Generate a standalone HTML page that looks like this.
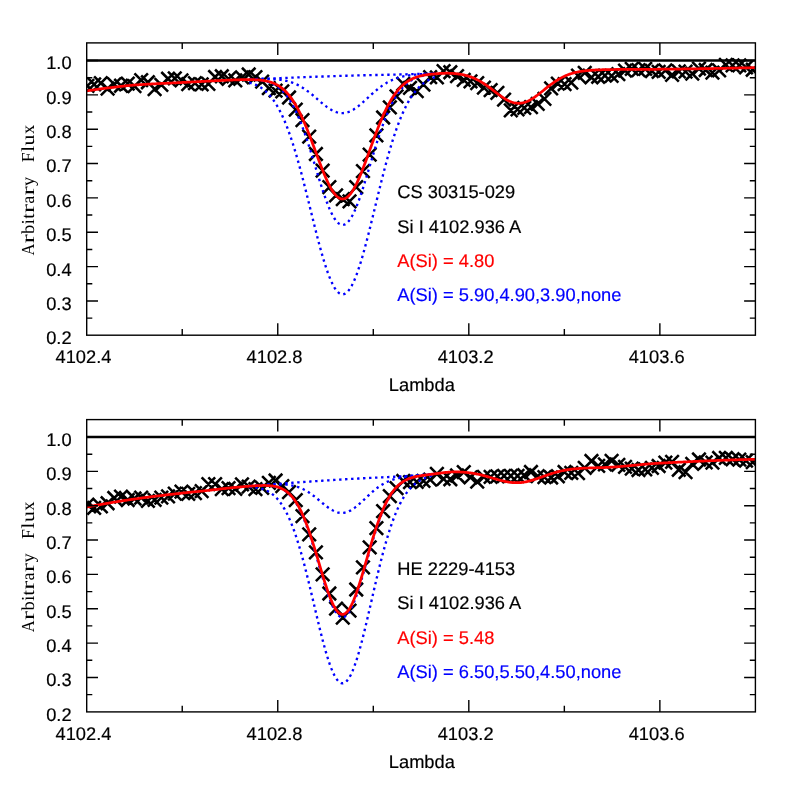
<!DOCTYPE html>
<html><head><meta charset="utf-8"><title>Si I 4102.936 fits</title>
<style>
html,body{margin:0;padding:0;background:#fff;}
svg{display:block;will-change:transform;}
text{font-family:"Liberation Sans",sans-serif;font-size:18.3px;fill:#000;stroke:#000;stroke-width:0.18px;text-rendering:geometricPrecision;}
.ser{font-family:"Liberation Serif",serif;stroke:none;}
</style></head><body>
<svg width="797" height="797" viewBox="0 0 797 797">
<rect width="797" height="797" fill="#fff"/>
<clipPath id="cp0"><rect x="86.7" y="42.9" width="668.6999999999999" height="292.3"/></clipPath>
<g clip-path="url(#cp0)">
<path d="M80.67,79.03L94.17,92.53M80.67,92.53L94.17,79.03M87.39,77.63L100.89,91.13M87.39,91.13L100.89,77.63M94.11,76.29L107.61,89.79M94.11,89.79L107.61,76.29M100.83,81.94L114.33,95.44M100.83,95.44L114.33,81.94M107.55,77.72L121.05,91.22M107.55,91.22L121.05,77.72M114.27,79.02L127.77,92.52M114.27,92.52L127.77,79.02M120.99,76.81L134.49,90.31M120.99,90.31L134.49,76.81M127.71,79.31L141.21,92.81M127.71,92.81L141.21,79.31M134.43,73.41L147.93,86.91M134.43,86.91L147.93,73.41M141.15,75.51L154.65,89.01M141.15,89.01L154.65,75.51M147.87,82.30L161.37,95.80M147.87,95.80L161.37,82.30M154.59,78.12L168.09,91.62M154.59,91.62L168.09,78.12M161.31,71.99L174.81,85.49M161.31,85.49L174.81,71.99M168.03,71.57L181.53,85.07M168.03,85.07L181.53,71.57M174.75,73.71L188.25,87.21M174.75,87.21L188.25,73.71M181.47,77.34L194.97,90.84M181.47,90.84L194.97,77.34M188.19,76.44L201.69,89.94M188.19,89.94L201.69,76.44M194.91,77.63L208.41,91.13M194.91,91.13L208.41,77.63M201.63,77.11L215.13,90.61M201.63,90.61L215.13,77.11M208.35,70.25L221.85,83.75M208.35,83.75L221.85,70.25M215.08,69.48L228.58,82.98M215.08,82.98L228.58,69.48M221.80,72.04L235.30,85.54M221.80,85.54L235.30,72.04M228.52,73.67L242.02,87.17M228.52,87.17L242.02,73.67M235.24,70.66L248.74,84.16M235.24,84.16L248.74,70.66M241.96,67.73L255.46,81.23M241.96,81.23L255.46,67.73M248.68,70.28L262.18,83.78M248.68,83.78L262.18,70.28M255.40,74.96L268.90,88.46M255.40,88.46L268.90,74.96M262.12,81.30L275.62,94.80M262.12,94.80L275.62,81.30M268.84,83.90L282.34,97.40M268.84,97.40L282.34,83.90M275.56,84.72L289.06,98.22M275.56,98.22L289.06,84.72M282.28,90.75L295.78,104.25M282.28,104.25L295.78,90.75M289.00,102.85L302.50,116.35M289.00,116.35L302.50,102.85M295.72,113.35L309.22,126.85M295.72,126.85L309.22,113.35M302.44,129.95L315.94,143.45M302.44,143.45L315.94,129.95M309.16,147.25L322.66,160.75M309.16,160.75L322.66,147.25M315.88,163.85L329.38,177.35M315.88,177.35L329.38,163.85M322.60,180.35L336.10,193.85M322.60,193.85L336.10,180.35M329.32,188.65L342.82,202.15M329.32,202.15L342.82,188.65M336.04,192.45L349.54,205.95M336.04,205.95L349.54,192.45M342.76,194.55L356.26,208.05M342.76,208.05L356.26,194.55M349.48,180.45L362.98,193.95M349.48,193.95L362.98,180.45M356.20,164.45L369.70,177.95M356.20,177.95L369.70,164.45M362.92,147.85L376.42,161.35M362.92,161.35L376.42,147.85M369.65,128.65L383.15,142.15M369.65,142.15L383.15,128.65M376.37,110.75L389.87,124.25M376.37,124.25L389.87,110.75M383.09,100.55L396.59,114.05M383.09,114.05L396.59,100.55M389.81,89.65L403.31,103.15M389.81,103.15L403.31,89.65M396.53,77.05L410.03,90.55M396.53,90.55L410.03,77.05M403.25,81.11L416.75,94.61M403.25,94.61L416.75,81.11M409.97,84.38L423.47,97.88M409.97,97.88L423.47,84.38M416.69,77.84L430.19,91.34M416.69,91.34L430.19,77.84M423.41,70.31L436.91,83.81M423.41,83.81L436.91,70.31M430.13,70.71L443.63,84.21M430.13,84.21L443.63,70.71M436.85,64.47L450.35,77.97M436.85,77.97L450.35,64.47M443.57,65.52L457.07,79.02M443.57,79.02L457.07,65.52M450.29,69.47L463.79,82.97M450.29,82.97L463.79,69.47M457.01,73.19L470.51,86.69M457.01,86.69L470.51,73.19M463.73,74.54L477.23,88.04M463.73,88.04L477.23,74.54M470.45,76.40L483.95,89.90M470.45,89.90L483.95,76.40M477.17,80.80L490.67,94.30M477.17,94.30L490.67,80.80M483.89,83.37L497.39,96.87M483.89,96.87L497.39,83.37M490.61,86.09L504.11,99.59M490.61,99.59L504.11,86.09M497.33,92.87L510.83,106.37M497.33,106.37L510.83,92.87M504.05,103.56L517.55,117.06M504.05,117.06L517.55,103.56M510.77,102.67L524.27,116.17M510.77,116.17L524.27,102.67M517.49,101.19L530.99,114.69M517.49,114.69L530.99,101.19M524.22,100.29L537.72,113.79M524.22,113.79L537.72,100.29M530.94,97.11L544.44,110.61M530.94,110.61L544.44,97.11M537.66,92.14L551.16,105.64M537.66,105.64L551.16,92.14M544.38,81.63L557.88,95.13M544.38,95.13L557.88,81.63M551.10,76.81L564.60,90.31M551.10,90.31L564.60,76.81M557.82,77.33L571.32,90.83M557.82,90.83L571.32,77.33M564.54,75.78L578.04,89.28M564.54,89.28L578.04,75.78M571.26,68.94L584.76,82.44M571.26,82.44L584.76,68.94M577.98,66.17L591.48,79.67M577.98,79.67L591.48,66.17M584.70,70.53L598.20,84.03M584.70,84.03L598.20,70.53M591.42,69.99L604.92,83.49M591.42,83.49L604.92,69.99M598.14,68.92L611.64,82.42M598.14,82.42L611.64,68.92M604.86,69.10L618.36,82.60M604.86,82.60L618.36,69.10M611.58,67.35L625.08,80.85M611.58,80.85L625.08,67.35M618.30,63.87L631.80,77.37M618.30,77.37L631.80,63.87M625.02,62.11L638.52,75.61M625.02,75.61L638.52,62.11M631.74,63.28L645.24,76.78M631.74,76.78L645.24,63.28M638.46,62.22L651.96,75.72M638.46,75.72L651.96,62.22M645.18,64.25L658.68,77.75M645.18,77.75L658.68,64.25M651.90,65.10L665.40,78.60M651.90,78.60L665.40,65.10M658.62,63.63L672.12,77.13M658.62,77.13L672.12,63.63M665.34,68.20L678.84,81.70M665.34,81.70L678.84,68.20M672.06,64.69L685.56,78.19M672.06,78.19L685.56,64.69M678.79,64.95L692.29,78.45M678.79,78.45L692.29,64.95M685.51,66.81L699.01,80.31M685.51,80.31L699.01,66.81M692.23,61.80L705.73,75.30M692.23,75.30L705.73,61.80M698.95,63.27L712.45,76.77M698.95,76.77L712.45,63.27M705.67,65.80L719.17,79.30M705.67,79.30L719.17,65.80M712.39,63.71L725.89,77.21M712.39,77.21L725.89,63.71M719.11,58.22L732.61,71.72M719.11,71.72L732.61,58.22M725.83,58.63L739.33,72.13M725.83,72.13L739.33,58.63M732.55,58.62L746.05,72.12M732.55,72.12L746.05,58.62M739.27,60.57L752.77,74.07M739.27,74.07L752.77,60.57M745.99,62.99L759.49,76.49M745.99,76.49L759.49,62.99" stroke="#000" stroke-width="2.55" fill="none"/>
<line x1="86.7" x2="755.4" y1="60.5" y2="60.5" stroke="#000" stroke-width="2.3"/>
<path d="M249.33,79.30 L250.29,79.26 L251.24,79.23 L252.20,79.19 L253.16,79.16 L254.11,79.12 L255.07,79.08 L256.03,79.05 L256.98,79.01 L257.94,78.97 L258.90,78.94 L259.85,78.90 L260.81,78.86 L261.77,78.83 L262.72,78.79 L263.68,78.75 L264.64,78.72 L265.59,78.68 L266.55,78.64 L267.51,78.60 L268.46,78.57 L269.42,78.53 L270.38,78.49 L271.33,78.46 L272.29,78.42 L273.25,78.38 L274.20,78.34 L275.16,78.31 L276.12,78.27 L277.07,78.23 L278.03,78.19 L278.99,78.16 L279.94,78.12 L280.90,78.08 L281.86,78.04 L282.81,78.01 L283.77,77.97 L284.73,77.93 L285.68,77.90 L286.64,77.86 L287.60,77.82 L288.55,77.78 L289.51,77.75 L290.47,77.71 L291.42,77.67 L292.38,77.64 L293.34,77.60 L294.29,77.56 L295.25,77.53 L296.21,77.49 L297.16,77.45 L298.12,77.41 L299.08,77.38 L300.03,77.34 L300.99,77.31 L301.95,77.27 L302.90,77.23 L303.86,77.20 L304.82,77.16 L305.77,77.12 L306.73,77.09 L307.69,77.05 L308.64,77.02 L309.60,76.98 L310.56,76.95 L311.51,76.91 L312.47,76.88 L313.43,76.84 L314.38,76.81 L315.34,76.77 L316.30,76.74 L317.25,76.70 L318.21,76.67 L319.17,76.63 L320.12,76.60 L321.08,76.57 L322.04,76.53 L322.99,76.50 L323.95,76.46 L324.91,76.43 L325.86,76.40 L326.82,76.36 L327.78,76.33 L328.73,76.30 L329.69,76.27 L330.65,76.23 L331.60,76.20 L332.56,76.17 L333.52,76.14 L334.47,76.11 L335.43,76.08 L336.39,76.04 L337.34,76.01 L338.30,75.98 L339.26,75.95 L340.21,75.92 L341.17,75.89 L342.13,75.86 L343.08,75.83 L344.04,75.80 L345.00,75.77 L345.95,75.75 L346.91,75.72 L347.87,75.69 L348.82,75.66 L349.78,75.63 L350.74,75.61 L351.69,75.58 L352.65,75.56 L353.61,75.53 L354.56,75.50 L355.52,75.48 L356.48,75.45 L357.43,75.43 L358.39,75.40 L359.35,75.38 L360.30,75.36 L361.26,75.33 L362.22,75.31 L363.17,75.29 L364.13,75.26 L365.09,75.24 L366.04,75.22 L367.00,75.20 L367.96,75.17 L368.91,75.15 L369.87,75.13 L370.83,75.11 L371.78,75.09 L372.74,75.07 L373.70,75.04 L374.65,75.02 L375.61,75.00 L376.57,74.98 L377.52,74.96 L378.48,74.94 L379.44,74.92 L380.39,74.90 L381.35,74.88 L382.31,74.85 L383.26,74.83 L384.22,74.81 L385.18,74.79 L386.13,74.77 L387.09,74.75 L388.05,74.73 L389.00,74.71 L389.96,74.69 L390.92,74.66 L391.87,74.64 L392.83,74.62 L393.79,74.60 L394.74,74.58 L395.70,74.55 L396.66,74.53 L397.61,74.51 L398.57,74.49 L399.53,74.46 L400.48,74.44 L401.44,74.42 L402.40,74.40 L403.35,74.37 L404.31,74.35 L405.27,74.32 L406.22,74.30 L407.18,74.28 L408.14,74.25 L409.09,74.23 L410.05,74.20 L411.01,74.17 L411.96,74.15 L412.92,74.12 L413.88,74.10 L414.83,74.07 L415.79,74.04 L416.75,74.02 L417.70,73.99 L418.66,73.96 L419.62,73.93 L420.57,73.91 L421.53,73.88 L422.48,73.85 L423.44,73.82 L424.40,73.79 L425.35,73.76 L426.31,73.73 L427.27,73.71 L428.22,73.68 L429.18,73.65 L430.14,73.62 L431.09,73.59 L432.05,73.56 L433.01,73.53 L433.96,73.49 L434.92,73.45" stroke="#0000ff" stroke-width="2.35" stroke-dasharray="2.4 3.6" fill="none"/>
<path d="M249.33,79.34 L250.29,79.31 L251.24,79.28 L252.20,79.25 L253.16,79.22 L254.11,79.19 L255.07,79.17 L256.03,79.14 L256.98,79.12 L257.94,79.10 L258.90,79.08 L259.85,79.06 L260.81,79.05 L261.77,79.04 L262.72,79.03 L263.68,79.02 L264.64,79.02 L265.59,79.02 L266.55,79.02 L267.51,79.03 L268.46,79.04 L269.42,79.06 L270.38,79.09 L271.33,79.12 L272.29,79.16 L273.25,79.20 L274.20,79.26 L275.16,79.32 L276.12,79.39 L277.07,79.47 L278.03,79.56 L278.99,79.66 L279.94,79.77 L280.90,79.90 L281.86,80.04 L282.81,80.19 L283.77,80.36 L284.73,80.55 L285.68,80.75 L286.64,80.96 L287.60,81.20 L288.55,81.45 L289.51,81.72 L290.47,82.02 L291.42,82.33 L292.38,82.67 L293.34,83.02 L294.29,83.40 L295.25,83.81 L296.21,84.23 L297.16,84.68 L298.12,85.15 L299.08,85.65 L300.03,86.17 L300.99,86.72 L301.95,87.29 L302.90,87.88 L303.86,88.50 L304.82,89.14 L305.77,89.80 L306.73,90.48 L307.69,91.18 L308.64,91.91 L309.60,92.65 L310.56,93.40 L311.51,94.18 L312.47,94.96 L313.43,95.76 L314.38,96.57 L315.34,97.38 L316.30,98.20 L317.25,99.03 L318.21,99.85 L319.17,100.68 L320.12,101.50 L321.08,102.31 L322.04,103.11 L322.99,103.90 L323.95,104.68 L324.91,105.44 L325.86,106.17 L326.82,106.89 L327.78,107.57 L328.73,108.23 L329.69,108.86 L330.65,109.45 L331.60,110.01 L332.56,110.52 L333.52,111.00 L334.47,111.43 L335.43,111.81 L336.39,112.15 L337.34,112.44 L338.30,112.68 L339.26,112.87 L340.21,113.01 L341.17,113.09 L342.13,113.12 L343.08,113.10 L344.04,113.02 L345.00,112.89 L345.95,112.71 L346.91,112.47 L347.87,112.19 L348.82,111.85 L349.78,111.46 L350.74,111.03 L351.69,110.55 L352.65,110.03 L353.61,109.46 L354.56,108.86 L355.52,108.22 L356.48,107.54 L357.43,106.84 L358.39,106.10 L359.35,105.33 L360.30,104.54 L361.26,103.73 L362.22,102.91 L363.17,102.06 L364.13,101.20 L365.09,100.34 L366.04,99.46 L367.00,98.58 L367.96,97.70 L368.91,96.82 L369.87,95.94 L370.83,95.07 L371.78,94.20 L372.74,93.35 L373.70,92.50 L374.65,91.67 L375.61,90.85 L376.57,90.05 L377.52,89.27 L378.48,88.50 L379.44,87.76 L380.39,87.03 L381.35,86.33 L382.31,85.65 L383.26,85.00 L384.22,84.36 L385.18,83.76 L386.13,83.17 L387.09,82.61 L388.05,82.07 L389.00,81.56 L389.96,81.07 L390.92,80.61 L391.87,80.16 L392.83,79.74 L393.79,79.34 L394.74,78.97 L395.70,78.61 L396.66,78.27 L397.61,77.95 L398.57,77.65 L399.53,77.37 L400.48,77.11 L401.44,76.86 L402.40,76.63 L403.35,76.41 L404.31,76.21 L405.27,76.02 L406.22,75.84 L407.18,75.67 L408.14,75.52 L409.09,75.37 L410.05,75.24 L411.01,75.11 L411.96,74.99 L412.92,74.88 L413.88,74.78 L414.83,74.68 L415.79,74.59 L416.75,74.51 L417.70,74.43 L418.66,74.35 L419.62,74.28 L420.57,74.21 L421.53,74.15 L422.48,74.09 L423.44,74.04 L424.40,73.98 L425.35,73.93 L426.31,73.88 L427.27,73.84 L428.22,73.79 L429.18,73.75 L430.14,73.71 L431.09,73.67 L432.05,73.63 L433.01,73.59 L433.96,73.54 L434.92,73.50" stroke="#0000ff" stroke-width="2.35" stroke-dasharray="2.4 3.6" fill="none"/>
<path d="M249.33,79.71 L250.29,79.72 L251.24,79.75 L252.20,79.77 L253.16,79.81 L254.11,79.85 L255.07,79.91 L256.03,79.97 L256.98,80.04 L257.94,80.12 L258.90,80.22 L259.85,80.33 L260.81,80.45 L261.77,80.59 L262.72,80.75 L263.68,80.93 L264.64,81.12 L265.59,81.34 L266.55,81.58 L267.51,81.85 L268.46,82.14 L269.42,82.46 L270.38,82.81 L271.33,83.19 L272.29,83.61 L273.25,84.07 L274.20,84.56 L275.16,85.10 L276.12,85.68 L277.07,86.30 L278.03,86.97 L278.99,87.70 L279.94,88.48 L280.90,89.31 L281.86,90.20 L282.81,91.15 L283.77,92.16 L284.73,93.24 L285.68,94.39 L286.64,95.61 L287.60,96.89 L288.55,98.25 L289.51,99.69 L290.47,101.20 L291.42,102.80 L292.38,104.47 L293.34,106.22 L294.29,108.06 L295.25,109.97 L296.21,111.97 L297.16,114.05 L298.12,116.22 L299.08,118.46 L300.03,120.78 L300.99,123.19 L301.95,125.67 L302.90,128.23 L303.86,130.85 L304.82,133.55 L305.77,136.32 L306.73,139.14 L307.69,142.03 L308.64,144.96 L309.60,147.95 L310.56,150.98 L311.51,154.04 L312.47,157.14 L313.43,160.26 L314.38,163.39 L315.34,166.54 L316.30,169.69 L317.25,172.83 L318.21,175.95 L319.17,179.06 L320.12,182.13 L321.08,185.16 L322.04,188.14 L322.99,191.07 L323.95,193.93 L324.91,196.71 L325.86,199.40 L326.82,202.01 L327.78,204.51 L328.73,206.90 L329.69,209.17 L330.65,211.32 L331.60,213.33 L332.56,215.20 L333.52,216.92 L334.47,218.49 L335.43,219.89 L336.39,221.14 L337.34,222.21 L338.30,223.11 L339.26,223.83 L340.21,224.37 L341.17,224.73 L342.13,224.91 L343.08,224.90 L344.04,224.71 L345.00,224.33 L345.95,223.77 L346.91,223.03 L347.87,222.12 L348.82,221.03 L349.78,219.76 L350.74,218.34 L351.69,216.75 L352.65,215.00 L353.61,213.11 L354.56,211.08 L355.52,208.90 L356.48,206.60 L357.43,204.18 L358.39,201.65 L359.35,199.01 L360.30,196.28 L361.26,193.46 L362.22,190.56 L363.17,187.60 L364.13,184.57 L365.09,181.49 L366.04,178.37 L367.00,175.22 L367.96,172.04 L368.91,168.85 L369.87,165.64 L370.83,162.44 L371.78,159.25 L372.74,156.06 L373.70,152.91 L374.65,149.78 L375.61,146.68 L376.57,143.63 L377.52,140.62 L378.48,137.67 L379.44,134.77 L380.39,131.94 L381.35,129.17 L382.31,126.46 L383.26,123.83 L384.22,121.28 L385.18,118.80 L386.13,116.40 L387.09,114.08 L388.05,111.84 L389.00,109.68 L389.96,107.60 L390.92,105.61 L391.87,103.70 L392.83,101.87 L393.79,100.12 L394.74,98.45 L395.70,96.86 L396.66,95.34 L397.61,93.90 L398.57,92.54 L399.53,91.25 L400.48,90.02 L401.44,88.87 L402.40,87.78 L403.35,86.75 L404.31,85.79 L405.27,84.88 L406.22,84.03 L407.18,83.23 L408.14,82.48 L409.09,81.78 L410.05,81.13 L411.01,80.52 L411.96,79.96 L412.92,79.43 L413.88,78.94 L414.83,78.48 L415.79,78.06 L416.75,77.67 L417.70,77.31 L418.66,76.97 L419.62,76.66 L420.57,76.37 L421.53,76.10 L422.48,75.86 L423.44,75.63 L424.40,75.42 L425.35,75.23 L426.31,75.05 L427.27,74.89 L428.22,74.73 L429.18,74.59 L430.14,74.47 L431.09,74.35 L432.05,74.23 L433.01,74.13 L433.96,74.02 L434.92,73.92" stroke="#0000ff" stroke-width="2.35" stroke-dasharray="2.4 3.6" fill="none"/>
<path d="M249.33,82.60 L250.29,82.86 L251.24,83.14 L252.20,83.45 L253.16,83.78 L254.11,84.14 L255.07,84.52 L256.03,84.94 L256.98,85.39 L257.94,85.88 L258.90,86.40 L259.85,86.95 L260.81,87.55 L261.77,88.19 L262.72,88.87 L263.68,89.60 L264.64,90.37 L265.59,91.20 L266.55,92.08 L267.51,93.01 L268.46,94.00 L269.42,95.04 L270.38,96.15 L271.33,97.32 L272.29,98.55 L273.25,99.85 L274.20,101.22 L275.16,102.66 L276.12,104.17 L277.07,105.76 L278.03,107.42 L278.99,109.17 L279.94,110.99 L280.90,112.89 L281.86,114.87 L282.81,116.93 L283.77,119.08 L284.73,121.32 L285.68,123.64 L286.64,126.04 L287.60,128.53 L288.55,131.11 L289.51,133.77 L290.47,136.52 L291.42,139.35 L292.38,142.26 L293.34,145.26 L294.29,148.34 L295.25,151.49 L296.21,154.72 L297.16,158.02 L298.12,161.40 L299.08,164.84 L300.03,168.34 L300.99,171.91 L301.95,175.53 L302.90,179.20 L303.86,182.92 L304.82,186.69 L305.77,190.48 L306.73,194.32 L307.69,198.17 L308.64,202.05 L309.60,205.93 L310.56,209.83 L311.51,213.72 L312.47,217.61 L313.43,221.48 L314.38,225.33 L315.34,229.15 L316.30,232.93 L317.25,236.67 L318.21,240.35 L319.17,243.97 L320.12,247.53 L321.08,251.01 L322.04,254.40 L322.99,257.70 L323.95,260.91 L324.91,264.00 L325.86,266.98 L326.82,269.84 L327.78,272.57 L328.73,275.17 L329.69,277.62 L330.65,279.92 L331.60,282.08 L332.56,284.07 L333.52,285.89 L334.47,287.55 L335.43,289.04 L336.39,290.34 L337.34,291.47 L338.30,292.41 L339.26,293.16 L340.21,293.73 L341.17,294.11 L342.13,294.29 L343.08,294.28 L344.04,294.09 L345.00,293.70 L345.95,293.11 L346.91,292.35 L347.87,291.39 L348.82,290.25 L349.78,288.92 L350.74,287.42 L351.69,285.75 L352.65,283.90 L353.61,281.89 L354.56,279.72 L355.52,277.39 L356.48,274.92 L357.43,272.30 L358.39,269.54 L359.35,266.65 L360.30,263.64 L361.26,260.52 L362.22,257.28 L363.17,253.95 L364.13,250.52 L365.09,247.00 L366.04,243.41 L367.00,239.74 L367.96,236.01 L368.91,232.23 L369.87,228.40 L370.83,224.54 L371.78,220.64 L372.74,216.71 L373.70,212.77 L374.65,208.83 L375.61,204.87 L376.57,200.93 L377.52,196.99 L378.48,193.07 L379.44,189.18 L380.39,185.32 L381.35,181.49 L382.31,177.70 L383.26,173.96 L384.22,170.27 L385.18,166.63 L386.13,163.05 L387.09,159.54 L388.05,156.09 L389.00,152.71 L389.96,149.41 L390.92,146.18 L391.87,143.03 L392.83,139.95 L393.79,136.96 L394.74,134.05 L395.70,131.22 L396.66,128.48 L397.61,125.83 L398.57,123.26 L399.53,120.77 L400.48,118.37 L401.44,116.06 L402.40,113.83 L403.35,111.68 L404.31,109.62 L405.27,107.64 L406.22,105.74 L407.18,103.92 L408.14,102.17 L409.09,100.51 L410.05,98.91 L411.01,97.39 L411.96,95.94 L412.92,94.56 L413.88,93.25 L414.83,92.00 L415.79,90.82 L416.75,89.69 L417.70,88.63 L418.66,87.62 L419.62,86.66 L420.57,85.76 L421.53,84.91 L422.48,84.10 L423.44,83.35 L424.40,82.63 L425.35,81.96 L426.31,81.33 L427.27,80.73 L428.22,80.18 L429.18,79.65 L430.14,79.17 L431.09,78.71 L432.05,78.27 L433.01,77.87 L433.96,77.48 L434.92,77.12" stroke="#0000ff" stroke-width="2.35" stroke-dasharray="2.4 3.6" fill="none"/>
<path d="M86.70,90.90 L87.66,90.76 L88.61,90.61 L89.57,90.47 L90.53,90.33 L91.48,90.19 L92.44,90.05 L93.40,89.91 L94.35,89.78 L95.31,89.64 L96.27,89.51 L97.22,89.37 L98.18,89.24 L99.14,89.11 L100.09,88.98 L101.05,88.85 L102.01,88.72 L102.96,88.60 L103.92,88.47 L104.88,88.35 L105.83,88.23 L106.79,88.10 L107.75,87.98 L108.70,87.87 L109.66,87.75 L110.62,87.63 L111.57,87.52 L112.53,87.40 L113.49,87.28 L114.44,87.17 L115.40,87.05 L116.36,86.94 L117.31,86.82 L118.27,86.71 L119.23,86.59 L120.18,86.48 L121.14,86.37 L122.10,86.26 L123.05,86.15 L124.01,86.05 L124.97,85.94 L125.92,85.84 L126.88,85.74 L127.84,85.64 L128.79,85.55 L129.75,85.46 L130.71,85.37 L131.66,85.29 L132.62,85.21 L133.58,85.13 L134.53,85.06 L135.49,84.98 L136.45,84.92 L137.40,84.85 L138.36,84.78 L139.32,84.72 L140.27,84.65 L141.23,84.59 L142.19,84.53 L143.14,84.47 L144.10,84.41 L145.06,84.35 L146.01,84.30 L146.97,84.24 L147.93,84.19 L148.88,84.13 L149.84,84.08 L150.80,84.03 L151.75,83.97 L152.71,83.92 L153.67,83.87 L154.62,83.82 L155.58,83.78 L156.54,83.73 L157.49,83.68 L158.45,83.63 L159.41,83.59 L160.36,83.54 L161.32,83.49 L162.28,83.45 L163.23,83.40 L164.19,83.36 L165.15,83.31 L166.10,83.27 L167.06,83.22 L168.02,83.18 L168.97,83.13 L169.93,83.09 L170.89,83.04 L171.84,83.00 L172.80,82.95 L173.76,82.90 L174.71,82.86 L175.67,82.81 L176.63,82.77 L177.58,82.72 L178.54,82.67 L179.50,82.62 L180.45,82.58 L181.41,82.53 L182.37,82.48 L183.32,82.43 L184.28,82.38 L185.24,82.33 L186.19,82.28 L187.15,82.23 L188.11,82.18 L189.06,82.13 L190.02,82.08 L190.98,82.03 L191.93,81.97 L192.89,81.92 L193.85,81.87 L194.80,81.82 L195.76,81.77 L196.72,81.72 L197.67,81.67 L198.63,81.62 L199.58,81.57 L200.54,81.52 L201.50,81.47 L202.45,81.42 L203.41,81.37 L204.37,81.32 L205.32,81.27 L206.28,81.22 L207.24,81.18 L208.19,81.13 L209.15,81.08 L210.11,81.03 L211.06,80.98 L212.02,80.93 L212.98,80.88 L213.93,80.84 L214.89,80.79 L215.85,80.74 L216.80,80.70 L217.76,80.65 L218.72,80.60 L219.67,80.56 L220.63,80.51 L221.59,80.47 L222.54,80.43 L223.50,80.38 L224.46,80.34 L225.41,80.30 L226.37,80.25 L227.33,80.21 L228.28,80.17 L229.24,80.13 L230.20,80.09 L231.15,80.06 L232.11,80.02 L233.07,79.98 L234.02,79.95 L234.98,79.91 L235.94,79.88 L236.89,79.85 L237.85,79.82 L238.81,79.79 L239.76,79.77 L240.72,79.74 L241.68,79.72 L242.63,79.70 L243.59,79.68 L244.55,79.67 L245.50,79.65 L246.46,79.64 L247.42,79.64 L248.37,79.64 L249.33,79.64 L250.29,79.64 L251.24,79.66 L252.20,79.67 L253.16,79.70 L254.11,79.73 L255.07,79.76 L256.03,79.81 L256.98,79.86 L257.94,79.92 L258.90,80.00 L259.85,80.08 L260.81,80.18 L261.77,80.29 L262.72,80.41 L263.68,80.55 L264.64,80.70 L265.59,80.88 L266.55,81.07 L267.51,81.28 L268.46,81.52 L269.42,81.78 L270.38,82.06 L271.33,82.37 L272.29,82.71 L273.25,83.08 L274.20,83.48 L275.16,83.92 L276.12,84.39 L277.07,84.90 L278.03,85.45 L278.99,86.04 L279.94,86.67 L280.90,87.36 L281.86,88.08 L282.81,88.86 L283.77,89.69 L284.73,90.58 L285.68,91.52 L286.64,92.52 L287.60,93.58 L288.55,94.69 L289.51,95.87 L290.47,97.12 L291.42,98.43 L292.38,99.80 L293.34,101.24 L294.29,102.75 L295.25,104.33 L296.21,105.97 L297.16,107.68 L298.12,109.47 L299.08,111.31 L300.03,113.23 L300.99,115.21 L301.95,117.25 L302.90,119.36 L303.86,121.52 L304.82,123.74 L305.77,126.02 L306.73,128.35 L307.69,130.72 L308.64,133.14 L309.60,135.60 L310.56,138.10 L311.51,140.62 L312.47,143.18 L313.43,145.75 L314.38,148.33 L315.34,150.92 L316.30,153.52 L317.25,156.10 L318.21,158.68 L319.17,161.24 L320.12,163.77 L321.08,166.27 L322.04,168.73 L322.99,171.14 L323.95,173.49 L324.91,175.78 L325.86,178.01 L326.82,180.15 L327.78,182.21 L328.73,184.18 L329.69,186.05 L330.65,187.82 L331.60,189.47 L332.56,191.01 L333.52,192.43 L334.47,193.72 L335.43,194.87 L336.39,195.89 L337.34,196.78 L338.30,197.51 L339.26,198.10 L340.21,198.55 L341.17,198.84 L342.13,198.98 L343.08,198.97 L344.04,198.80 L345.00,198.49 L345.95,198.02 L346.91,197.41 L347.87,196.64 L348.82,195.74 L349.78,194.69 L350.74,193.51 L351.69,192.19 L352.65,190.75 L353.61,189.18 L354.56,187.49 L355.52,185.69 L356.48,183.79 L357.43,181.79 L358.39,179.69 L359.35,177.51 L360.30,175.24 L361.26,172.91 L362.22,170.51 L363.17,168.06 L364.13,165.56 L365.09,163.01 L366.04,160.43 L367.00,157.82 L367.96,155.19 L368.91,152.55 L369.87,149.90 L370.83,147.25 L371.78,144.60 L372.74,141.97 L373.70,139.36 L374.65,136.77 L375.61,134.21 L376.57,131.69 L377.52,129.20 L378.48,126.76 L379.44,124.36 L380.39,122.01 L381.35,119.72 L382.31,117.49 L383.26,115.31 L384.22,113.19 L385.18,111.14 L386.13,109.16 L387.09,107.23 L388.05,105.38 L389.00,103.59 L389.96,101.88 L390.92,100.22 L391.87,98.64 L392.83,97.13 L393.79,95.68 L394.74,94.29 L395.70,92.98 L396.66,91.72 L397.61,90.53 L398.57,89.40 L399.53,88.33 L400.48,87.31 L401.44,86.35 L402.40,85.45 L403.35,84.60 L404.31,83.80 L405.27,83.04 L406.22,82.34 L407.18,81.67 L408.14,81.05 L409.09,80.47 L410.05,79.93 L411.01,79.42 L411.96,78.95 L412.92,78.51 L413.88,78.10 L414.83,77.72 L415.79,77.36 L416.75,77.03 L417.70,76.73 L418.66,76.45 L419.62,76.18 L420.57,75.94 L421.53,75.72 L422.48,75.51 L423.44,75.32 L424.40,75.14 L425.35,74.97 L426.31,74.82 L427.27,74.68 L428.22,74.55 L429.18,74.43 L430.14,74.32 L431.09,74.22 L432.05,74.12 L433.01,74.02 L433.96,73.93 L434.92,73.84 L435.88,73.76 L436.83,73.68 L437.79,73.61 L438.75,73.54 L439.70,73.47 L440.66,73.42 L441.62,73.37 L442.57,73.32 L443.53,73.29 L444.49,73.26 L445.44,73.24 L446.40,73.23 L447.36,73.23 L448.31,73.24 L449.27,73.26 L450.23,73.30 L451.18,73.34 L452.14,73.39 L453.10,73.46 L454.05,73.53 L455.01,73.61 L455.97,73.70 L456.92,73.81 L457.88,73.92 L458.84,74.05 L459.79,74.19 L460.75,74.34 L461.71,74.51 L462.66,74.69 L463.62,74.89 L464.58,75.11 L465.53,75.34 L466.49,75.59 L467.45,75.86 L468.40,76.14 L469.36,76.45 L470.32,76.77 L471.27,77.12 L472.23,77.48 L473.19,77.87 L474.14,78.27 L475.10,78.70 L476.06,79.15 L477.01,79.62 L477.97,80.11 L478.93,80.63 L479.88,81.16 L480.84,81.72 L481.80,82.29 L482.75,82.89 L483.71,83.50 L484.67,84.13 L485.62,84.78 L486.58,85.44 L487.54,86.12 L488.49,86.81 L489.45,87.52 L490.41,88.23 L491.36,88.95 L492.32,89.68 L493.28,90.41 L494.23,91.14 L495.19,91.87 L496.15,92.60 L497.10,93.33 L498.06,94.05 L499.02,94.76 L499.97,95.45 L500.93,96.14 L501.89,96.80 L502.84,97.45 L503.80,98.07 L504.76,98.67 L505.71,99.24 L506.67,99.78 L507.63,100.29 L508.58,100.76 L509.54,101.20 L510.50,101.60 L511.45,101.97 L512.41,102.29 L513.37,102.56 L514.32,102.80 L515.28,102.98 L516.24,103.12 L517.19,103.22 L518.15,103.26 L519.11,103.26 L520.06,103.21 L521.02,103.12 L521.98,102.97 L522.93,102.78 L523.89,102.54 L524.85,102.26 L525.80,101.93 L526.76,101.56 L527.72,101.15 L528.67,100.71 L529.63,100.22 L530.59,99.70 L531.54,99.14 L532.50,98.55 L533.46,97.94 L534.41,97.30 L535.37,96.63 L536.33,95.94 L537.28,95.23 L538.24,94.51 L539.20,93.77 L540.15,93.02 L541.11,92.27 L542.07,91.50 L543.02,90.73 L543.98,89.96 L544.94,89.19 L545.89,88.43 L546.85,87.66 L547.81,86.91 L548.76,86.16 L549.72,85.43 L550.68,84.70 L551.63,83.99 L552.59,83.29 L553.55,82.61 L554.50,81.95 L555.46,81.31 L556.42,80.68 L557.37,80.07 L558.33,79.49 L559.29,78.92 L560.24,78.38 L561.20,77.85 L562.16,77.35 L563.11,76.87 L564.07,76.41 L565.03,75.97 L565.98,75.55 L566.94,75.16 L567.90,74.78 L568.85,74.42 L569.81,74.09 L570.77,73.77 L571.72,73.47 L572.68,73.19 L573.64,72.92 L574.59,72.67 L575.55,72.44 L576.51,72.22 L577.46,72.02 L578.42,71.83 L579.38,71.65 L580.33,71.49 L581.29,71.33 L582.25,71.19 L583.20,71.06 L584.16,70.93 L585.12,70.82 L586.07,70.71 L587.03,70.61 L587.99,70.52 L588.94,70.43 L589.90,70.35 L590.86,70.28 L591.81,70.21 L592.77,70.15 L593.73,70.09 L594.68,70.04 L595.64,69.99 L596.60,69.94 L597.55,69.90 L598.51,69.86 L599.47,69.82 L600.42,69.79 L601.38,69.76 L602.34,69.73 L603.29,69.70 L604.25,69.67 L605.21,69.65 L606.16,69.63 L607.12,69.61 L608.08,69.59 L609.03,69.57 L609.99,69.56 L610.95,69.54 L611.90,69.53 L612.86,69.52 L613.82,69.51 L614.77,69.50 L615.73,69.49 L616.69,69.48 L617.64,69.47 L618.60,69.46 L619.56,69.45 L620.51,69.44 L621.47,69.44 L622.43,69.43 L623.38,69.42 L624.34,69.42 L625.30,69.41 L626.25,69.41 L627.21,69.40 L628.17,69.40 L629.12,69.39 L630.08,69.39 L631.04,69.38 L631.99,69.38 L632.95,69.37 L633.91,69.37 L634.86,69.36 L635.82,69.36 L636.78,69.36 L637.73,69.35 L638.69,69.35 L639.65,69.34 L640.60,69.34 L641.56,69.33 L642.52,69.33 L643.47,69.33 L644.43,69.32 L645.38,69.32 L646.34,69.31 L647.30,69.31 L648.25,69.30 L649.21,69.30 L650.17,69.29 L651.12,69.29 L652.08,69.28 L653.04,69.27 L653.99,69.27 L654.95,69.26 L655.91,69.25 L656.86,69.25 L657.82,69.24 L658.78,69.23 L659.73,69.23 L660.69,69.22 L661.65,69.21 L662.60,69.20 L663.56,69.19 L664.52,69.18 L665.47,69.18 L666.43,69.17 L667.39,69.16 L668.34,69.15 L669.30,69.14 L670.26,69.13 L671.21,69.12 L672.17,69.11 L673.13,69.10 L674.08,69.09 L675.04,69.08 L676.00,69.07 L676.95,69.06 L677.91,69.04 L678.87,69.03 L679.82,69.02 L680.78,69.01 L681.74,69.00 L682.69,68.99 L683.65,68.97 L684.61,68.96 L685.56,68.95 L686.52,68.94 L687.48,68.92 L688.43,68.91 L689.39,68.90 L690.35,68.88 L691.30,68.87 L692.26,68.86 L693.22,68.84 L694.17,68.83 L695.13,68.81 L696.09,68.80 L697.04,68.78 L698.00,68.77 L698.96,68.75 L699.91,68.74 L700.87,68.72 L701.83,68.71 L702.78,68.69 L703.74,68.68 L704.70,68.66 L705.65,68.64 L706.61,68.63 L707.57,68.61 L708.52,68.60 L709.48,68.58 L710.44,68.56 L711.39,68.55 L712.35,68.53 L713.31,68.51 L714.26,68.49 L715.22,68.48 L716.18,68.46 L717.13,68.44 L718.09,68.42 L719.05,68.40 L720.00,68.39 L720.96,68.37 L721.92,68.35 L722.87,68.33 L723.83,68.31 L724.79,68.29 L725.74,68.27 L726.70,68.25 L727.66,68.23 L728.61,68.21 L729.57,68.19 L730.53,68.17 L731.48,68.15 L732.44,68.13 L733.40,68.11 L734.35,68.09 L735.31,68.07 L736.27,68.05 L737.22,68.03 L738.18,68.01 L739.14,67.99 L740.09,67.97 L741.05,67.95 L742.01,67.92 L742.96,67.90 L743.92,67.88 L744.88,67.86 L745.83,67.84 L746.79,67.82 L747.75,67.79 L748.70,67.77 L749.66,67.75 L750.62,67.73 L751.57,67.70 L752.53,67.68 L753.49,67.66 L754.44,67.63 L755.40,67.61" stroke="#ff0000" stroke-width="2.75" fill="none" stroke-linejoin="round"/>
</g>
<rect x="86.7" y="42.9" width="668.6999999999999" height="292.3" fill="none" stroke="#000" stroke-width="1.4"/>
<path d="M182.23,335.2v-6.1M182.23,42.9v6.1M277.76,335.2v-12.0M277.76,42.9v12.0M373.29,335.2v-6.1M373.29,42.9v6.1M468.81,335.2v-12.0M468.81,42.9v12.0M564.34,335.2v-6.1M564.34,42.9v6.1M659.87,335.2v-12.0M659.87,42.9v12.0M86.7,318.12h5.6M755.4,318.12h-5.6M86.7,300.95h11.3M755.4,300.95h-11.3M86.7,283.77h5.6M755.4,283.77h-5.6M86.7,266.60h11.3M755.4,266.60h-11.3M86.7,249.43h5.6M755.4,249.43h-5.6M86.7,232.25h11.3M755.4,232.25h-11.3M86.7,215.07h5.6M755.4,215.07h-5.6M86.7,197.90h11.3M755.4,197.90h-11.3M86.7,180.72h5.6M755.4,180.72h-5.6M86.7,163.55h11.3M755.4,163.55h-11.3M86.7,146.38h5.6M755.4,146.38h-5.6M86.7,129.20h11.3M755.4,129.20h-11.3M86.7,112.02h5.6M755.4,112.02h-5.6M86.7,94.85h11.3M755.4,94.85h-11.3M86.7,77.68h5.6M755.4,77.68h-5.6M86.7,60.50h11.3M755.4,60.50h-11.3" stroke="#000" stroke-width="1.4" fill="none"/>
<text x="83.50" y="363.10" text-anchor="middle">4102.4</text>
<text x="274.56" y="363.10" text-anchor="middle">4102.8</text>
<text x="465.61" y="363.10" text-anchor="middle">4103.2</text>
<text x="656.67" y="363.10" text-anchor="middle">4103.6</text>
<text x="71.6" y="344.20" text-anchor="end">0.2</text>
<text x="71.6" y="309.85" text-anchor="end">0.3</text>
<text x="71.6" y="275.50" text-anchor="end">0.4</text>
<text x="71.6" y="241.15" text-anchor="end">0.5</text>
<text x="71.6" y="206.80" text-anchor="end">0.6</text>
<text x="71.6" y="172.45" text-anchor="end">0.7</text>
<text x="71.6" y="138.10" text-anchor="end">0.8</text>
<text x="71.6" y="103.75" text-anchor="end">0.9</text>
<text x="71.6" y="69.40" text-anchor="end">1.0</text>
<text x="421.85" y="391.20" text-anchor="middle">Lambda</text>
<g class="ser" transform="translate(33.5,255.30) rotate(-90)" style="font-size:17.8px;fill:#262626"><text class="ser" x="-0.2" y="0" textLength="11.9" lengthAdjust="spacingAndGlyphs">A</text><text class="ser" x="12.0" y="0" textLength="9.1" lengthAdjust="spacingAndGlyphs">r</text><text class="ser" x="21.4" y="0" textLength="9.2" lengthAdjust="spacingAndGlyphs">b</text><text class="ser" x="30.9" y="0" textLength="5.3" lengthAdjust="spacingAndGlyphs">i</text><text class="ser" x="36.5" y="0" textLength="5.4" lengthAdjust="spacingAndGlyphs">t</text><text class="ser" x="42.2" y="0" textLength="9.1" lengthAdjust="spacingAndGlyphs">r</text><text class="ser" x="51.6" y="0" textLength="8.1" lengthAdjust="spacingAndGlyphs">a</text><text class="ser" x="60.0" y="0" textLength="9.1" lengthAdjust="spacingAndGlyphs">r</text><text class="ser" x="69.4" y="0" textLength="9.1" lengthAdjust="spacingAndGlyphs">y</text><text class="ser" x="93.0" y="0" textLength="10.0" lengthAdjust="spacingAndGlyphs">F</text><text class="ser" x="103.3" y="0" textLength="6.3" lengthAdjust="spacingAndGlyphs">l</text><text class="ser" x="109.9" y="0" textLength="11.0" lengthAdjust="spacingAndGlyphs">u</text><text class="ser" x="121.2" y="0" textLength="9.1" lengthAdjust="spacingAndGlyphs">x</text></g>
<text x="397.3" y="198.40" style="fill:#000;stroke:#000">CS 30315-029</text>
<text x="397.3" y="232.75" style="fill:#000;stroke:#000">Si I 4102.936 A</text>
<text x="397.3" y="267.10" style="fill:#ff0000;stroke:#ff0000">A(Si) = 4.80</text>
<text x="397.3" y="301.45" style="fill:#0000ff;stroke:#0000ff">A(Si) = 5.90,4.90,3.90,none</text>
<clipPath id="cp1"><rect x="86.7" y="419.6" width="668.6999999999999" height="292.29999999999995"/></clipPath>
<g clip-path="url(#cp1)">
<path d="M80.67,497.78L94.17,511.28M80.67,511.28L94.17,497.78M87.39,501.19L100.89,514.69M87.39,514.69L100.89,501.19M94.11,499.59L107.61,513.09M94.11,513.09L107.61,499.59M100.83,496.51L114.33,510.01M100.83,510.01L114.33,496.51M107.55,491.25L121.05,504.75M107.55,504.75L121.05,491.25M114.27,489.82L127.77,503.32M114.27,503.32L127.77,489.82M120.99,493.26L134.49,506.76M120.99,506.76L134.49,493.26M127.71,491.77L141.21,505.27M127.71,505.27L141.21,491.77M134.43,490.84L147.93,504.34M134.43,504.34L147.93,490.84M141.15,494.10L154.65,507.60M141.15,507.60L154.65,494.10M147.87,493.04L161.37,506.54M147.87,506.54L161.37,493.04M154.59,490.84L168.09,504.34M154.59,504.34L168.09,490.84M161.31,489.69L174.81,503.19M161.31,503.19L174.81,489.69M168.03,486.84L181.53,500.34M168.03,500.34L181.53,486.84M174.75,484.88L188.25,498.38M174.75,498.38L188.25,484.88M181.47,487.07L194.97,500.57M181.47,500.57L194.97,487.07M188.19,486.39L201.69,499.89M188.19,499.89L201.69,486.39M194.91,484.34L208.41,497.84M194.91,497.84L208.41,484.34M201.63,477.44L215.13,490.94M201.63,490.94L215.13,477.44M208.35,477.35L221.85,490.85M208.35,490.85L221.85,477.35M215.08,482.41L228.58,495.91M215.08,495.91L228.58,482.41M221.80,481.34L235.30,494.84M221.80,494.84L235.30,481.34M228.52,482.05L242.02,495.55M228.52,495.55L242.02,482.05M235.24,477.65L248.74,491.15M235.24,491.15L248.74,477.65M241.96,479.84L255.46,493.34M241.96,493.34L255.46,479.84M248.68,482.46L262.18,495.96M248.68,495.96L262.18,482.46M255.40,481.16L268.90,494.66M255.40,494.66L268.90,481.16M262.12,476.13L275.62,489.63M262.12,489.63L275.62,476.13M268.84,473.75L282.34,487.25M268.84,487.25L282.34,473.75M275.56,479.35L289.06,492.85M275.56,492.85L289.06,479.35M282.28,485.35L295.78,498.85M282.28,498.85L295.78,485.35M289.00,493.35L302.50,506.85M289.00,506.85L302.50,493.35M295.72,509.45L309.22,522.95M295.72,522.95L309.22,509.45M302.44,527.55L315.94,541.05M302.44,541.05L315.94,527.55M309.16,545.55L322.66,559.05M309.16,559.05L322.66,545.55M315.88,567.65L329.38,581.15M315.88,581.15L329.38,567.65M322.60,586.75L336.10,600.25M322.60,600.25L336.10,586.75M329.32,601.85L342.82,615.35M329.32,615.35L342.82,601.85M336.04,610.85L349.54,624.35M336.04,624.35L349.54,610.85M342.76,603.85L356.26,617.35M342.76,617.35L356.26,603.85M349.48,582.75L362.98,596.25M349.48,596.25L362.98,582.75M356.20,560.65L369.70,574.15M356.20,574.15L369.70,560.65M362.92,540.55L376.42,554.05M362.92,554.05L376.42,540.55M369.65,521.45L383.15,534.95M369.65,534.95L383.15,521.45M376.37,504.45L389.87,517.95M376.37,517.95L389.87,504.45M383.09,489.35L396.59,502.85M383.09,502.85L396.59,489.35M389.81,481.35L403.31,494.85M389.81,494.85L403.31,481.35M396.53,474.25L410.03,487.75M396.53,487.75L410.03,474.25M403.25,475.34L416.75,488.84M403.25,488.84L416.75,475.34M409.97,475.11L423.47,488.61M409.97,488.61L423.47,475.11M416.69,474.08L430.19,487.58M416.69,487.58L430.19,474.08M423.41,472.96L436.91,486.46M423.41,486.46L436.91,472.96M430.13,467.14L443.63,480.64M430.13,480.64L443.63,467.14M436.85,472.12L450.35,485.62M436.85,485.62L450.35,472.12M443.57,472.52L457.07,486.02M443.57,486.02L457.07,472.52M450.29,468.76L463.79,482.26M450.29,482.26L463.79,468.76M457.01,465.46L470.51,478.96M457.01,478.96L470.51,465.46M463.73,470.58L477.23,484.08M463.73,484.08L477.23,470.58M470.45,474.89L483.95,488.39M470.45,488.39L483.95,474.89M477.17,470.18L490.67,483.68M477.17,483.68L490.67,470.18M483.89,470.11L497.39,483.61M483.89,483.61L497.39,470.11M490.61,469.67L504.11,483.17M490.61,483.17L504.11,469.67M497.33,469.09L510.83,482.59M497.33,482.59L510.83,469.09M504.05,469.12L517.55,482.62M504.05,482.62L517.55,469.12M510.77,469.11L524.27,482.61M510.77,482.61L524.27,469.11M517.49,468.48L530.99,481.98M517.49,481.98L530.99,468.48M524.22,465.24L537.72,478.74M524.22,478.74L537.72,465.24M530.94,469.43L544.44,482.93M530.94,482.93L544.44,469.43M537.66,470.33L551.16,483.83M537.66,483.83L551.16,470.33M544.38,470.76L557.88,484.26M544.38,484.26L557.88,470.76M551.10,469.49L564.60,482.99M551.10,482.99L564.60,469.49M557.82,465.27L571.32,478.77M557.82,478.77L571.32,465.27M564.54,466.15L578.04,479.65M564.54,479.65L578.04,466.15M571.26,466.28L584.76,479.78M571.26,479.78L584.76,466.28M577.98,461.22L591.48,474.72M577.98,474.72L591.48,461.22M584.70,454.26L598.20,467.76M584.70,467.76L598.20,454.26M591.42,459.22L604.92,472.72M591.42,472.72L604.92,459.22M598.14,457.64L611.64,471.14M598.14,471.14L611.64,457.64M604.86,454.21L618.36,467.71M604.86,467.71L618.36,454.21M611.58,458.20L625.08,471.70M611.58,471.70L625.08,458.20M618.30,460.04L631.80,473.54M618.30,473.54L631.80,460.04M625.02,461.83L638.52,475.33M625.02,475.33L638.52,461.83M631.74,463.26L645.24,476.76M631.74,476.76L645.24,463.26M638.46,462.64L651.96,476.14M638.46,476.14L651.96,462.64M645.18,461.20L658.68,474.70M645.18,474.70L658.68,461.20M651.90,459.24L665.40,472.74M651.90,472.74L665.40,459.24M658.62,455.79L672.12,469.29M658.62,469.29L672.12,455.79M665.34,455.10L678.84,468.60M665.34,468.60L678.84,455.10M672.06,463.00L685.56,476.50M672.06,476.50L685.56,463.00M678.79,465.41L692.29,478.91M678.79,478.91L692.29,465.41M685.51,457.19L699.01,470.69M685.51,470.69L699.01,457.19M692.23,452.76L705.73,466.26M692.23,466.26L705.73,452.76M698.95,455.56L712.45,469.06M698.95,469.06L712.45,455.56M705.67,455.96L719.17,469.46M705.67,469.46L719.17,455.96M712.39,451.24L725.89,464.74M712.39,464.74L725.89,451.24M719.11,451.13L732.61,464.63M719.11,464.63L732.61,451.13M725.83,452.48L739.33,465.98M725.83,465.98L739.33,452.48M732.55,452.97L746.05,466.47M732.55,466.47L746.05,452.97M739.27,453.82L752.77,467.32M739.27,467.32L752.77,453.82M745.99,455.38L759.49,468.88M745.99,468.88L759.49,455.38" stroke="#000" stroke-width="2.55" fill="none"/>
<line x1="86.7" x2="755.4" y1="437.0" y2="437.0" stroke="#000" stroke-width="2.3"/>
<path d="M249.33,486.13 L250.29,486.05 L251.24,485.97 L252.20,485.89 L253.16,485.80 L254.11,485.72 L255.07,485.64 L256.03,485.56 L256.98,485.48 L257.94,485.41 L258.90,485.33 L259.85,485.25 L260.81,485.17 L261.77,485.10 L262.72,485.02 L263.68,484.94 L264.64,484.87 L265.59,484.79 L266.55,484.72 L267.51,484.64 L268.46,484.57 L269.42,484.49 L270.38,484.42 L271.33,484.34 L272.29,484.27 L273.25,484.20 L274.20,484.12 L275.16,484.05 L276.12,483.98 L277.07,483.91 L278.03,483.83 L278.99,483.76 L279.94,483.69 L280.90,483.62 L281.86,483.55 L282.81,483.48 L283.77,483.41 L284.73,483.34 L285.68,483.27 L286.64,483.19 L287.60,483.13 L288.55,483.06 L289.51,482.99 L290.47,482.92 L291.42,482.85 L292.38,482.78 L293.34,482.71 L294.29,482.64 L295.25,482.57 L296.21,482.51 L297.16,482.44 L298.12,482.37 L299.08,482.30 L300.03,482.24 L300.99,482.17 L301.95,482.10 L302.90,482.04 L303.86,481.97 L304.82,481.90 L305.77,481.84 L306.73,481.77 L307.69,481.71 L308.64,481.64 L309.60,481.58 L310.56,481.51 L311.51,481.45 L312.47,481.38 L313.43,481.32 L314.38,481.25 L315.34,481.19 L316.30,481.13 L317.25,481.06 L318.21,481.00 L319.17,480.94 L320.12,480.87 L321.08,480.81 L322.04,480.75 L322.99,480.68 L323.95,480.62 L324.91,480.56 L325.86,480.50 L326.82,480.43 L327.78,480.37 L328.73,480.31 L329.69,480.25 L330.65,480.19 L331.60,480.13 L332.56,480.06 L333.52,480.00 L334.47,479.94 L335.43,479.88 L336.39,479.82 L337.34,479.76 L338.30,479.70 L339.26,479.64 L340.21,479.58 L341.17,479.52 L342.13,479.46 L343.08,479.40 L344.04,479.34 L345.00,479.28 L345.95,479.22 L346.91,479.17 L347.87,479.11 L348.82,479.05 L349.78,479.00 L350.74,478.95 L351.69,478.89 L352.65,478.84 L353.61,478.78 L354.56,478.73 L355.52,478.68 L356.48,478.63 L357.43,478.58 L358.39,478.53 L359.35,478.48 L360.30,478.43 L361.26,478.38 L362.22,478.33 L363.17,478.28 L364.13,478.23 L365.09,478.19 L366.04,478.14 L367.00,478.09 L367.96,478.04 L368.91,478.00 L369.87,477.95 L370.83,477.90 L371.78,477.85 L372.74,477.81 L373.70,477.76 L374.65,477.71 L375.61,477.67 L376.57,477.62 L377.52,477.58 L378.48,477.53 L379.44,477.48 L380.39,477.44 L381.35,477.39 L382.31,477.34 L383.26,477.29 L384.22,477.25 L385.18,477.20 L386.13,477.15 L387.09,477.10 L388.05,477.06 L389.00,477.01 L389.96,476.96 L390.92,476.91 L391.87,476.86 L392.83,476.81 L393.79,476.76 L394.74,476.71 L395.70,476.66 L396.66,476.61 L397.61,476.56 L398.57,476.50 L399.53,476.45 L400.48,476.40 L401.44,476.34 L402.40,476.29 L403.35,476.23 L404.31,476.18 L405.27,476.12 L406.22,476.07 L407.18,476.01 L408.14,475.95 L409.09,475.89 L410.05,475.83 L411.01,475.77 L411.96,475.71 L412.92,475.65 L413.88,475.58 L414.83,475.52 L415.79,475.46 L416.75,475.39 L417.70,475.32 L418.66,475.26 L419.62,475.19 L420.57,475.12 L421.53,475.05 L422.48,474.98 L423.44,474.91 L424.40,474.84 L425.35,474.76 L426.31,474.68 L427.27,474.60 L428.22,474.50 L429.18,474.41 L430.14,474.30 L431.09,474.20 L432.05,474.09 L433.01,473.97 L433.96,473.86 L434.92,473.74" stroke="#0000ff" stroke-width="2.35" stroke-dasharray="2.4 3.6" fill="none"/>
<path d="M249.33,486.14 L250.29,486.06 L251.24,485.98 L252.20,485.90 L253.16,485.82 L254.11,485.74 L255.07,485.66 L256.03,485.58 L256.98,485.51 L257.94,485.43 L258.90,485.36 L259.85,485.29 L260.81,485.22 L261.77,485.15 L262.72,485.08 L263.68,485.01 L264.64,484.95 L265.59,484.89 L266.55,484.83 L267.51,484.77 L268.46,484.71 L269.42,484.66 L270.38,484.61 L271.33,484.56 L272.29,484.52 L273.25,484.48 L274.20,484.45 L275.16,484.42 L276.12,484.40 L277.07,484.38 L278.03,484.37 L278.99,484.37 L279.94,484.38 L280.90,484.39 L281.86,484.42 L282.81,484.45 L283.77,484.49 L284.73,484.55 L285.68,484.62 L286.64,484.70 L287.60,484.80 L288.55,484.91 L289.51,485.04 L290.47,485.18 L291.42,485.35 L292.38,485.53 L293.34,485.73 L294.29,485.96 L295.25,486.20 L296.21,486.47 L297.16,486.76 L298.12,487.08 L299.08,487.42 L300.03,487.79 L300.99,488.18 L301.95,488.60 L302.90,489.05 L303.86,489.53 L304.82,490.03 L305.77,490.55 L306.73,491.11 L307.69,491.69 L308.64,492.30 L309.60,492.93 L310.56,493.59 L311.51,494.27 L312.47,494.97 L313.43,495.69 L314.38,496.43 L315.34,497.18 L316.30,497.95 L317.25,498.73 L318.21,499.52 L319.17,500.32 L320.12,501.12 L321.08,501.92 L322.04,502.71 L322.99,503.50 L323.95,504.28 L324.91,505.05 L325.86,505.80 L326.82,506.54 L327.78,507.25 L328.73,507.93 L329.69,508.58 L330.65,509.20 L331.60,509.78 L332.56,510.32 L333.52,510.81 L334.47,511.26 L335.43,511.66 L336.39,512.01 L337.34,512.31 L338.30,512.55 L339.26,512.74 L340.21,512.86 L341.17,512.93 L342.13,512.94 L343.08,512.89 L344.04,512.77 L345.00,512.60 L345.95,512.37 L346.91,512.08 L347.87,511.74 L348.82,511.34 L349.78,510.88 L350.74,510.38 L351.69,509.82 L352.65,509.22 L353.61,508.58 L354.56,507.89 L355.52,507.17 L356.48,506.42 L357.43,505.63 L358.39,504.81 L359.35,503.97 L360.30,503.11 L361.26,502.24 L362.22,501.35 L363.17,500.45 L364.13,499.54 L365.09,498.63 L366.04,497.72 L367.00,496.81 L367.96,495.91 L368.91,495.02 L369.87,494.13 L370.83,493.26 L371.78,492.41 L372.74,491.57 L373.70,490.76 L374.65,489.96 L375.61,489.19 L376.57,488.44 L377.52,487.71 L378.48,487.01 L379.44,486.34 L380.39,485.69 L381.35,485.07 L382.31,484.48 L383.26,483.91 L384.22,483.37 L385.18,482.86 L386.13,482.37 L387.09,481.91 L388.05,481.47 L389.00,481.06 L389.96,480.67 L390.92,480.30 L391.87,479.95 L392.83,479.62 L393.79,479.32 L394.74,479.03 L395.70,478.76 L396.66,478.51 L397.61,478.27 L398.57,478.05 L399.53,477.84 L400.48,477.64 L401.44,477.46 L402.40,477.29 L403.35,477.13 L404.31,476.97 L405.27,476.83 L406.22,476.69 L407.18,476.56 L408.14,476.44 L409.09,476.32 L410.05,476.21 L411.01,476.11 L411.96,476.00 L412.92,475.91 L413.88,475.81 L414.83,475.72 L415.79,475.63 L416.75,475.54 L417.70,475.45 L418.66,475.37 L419.62,475.29 L420.57,475.20 L421.53,475.12 L422.48,475.04 L423.44,474.96 L424.40,474.88 L425.35,474.80 L426.31,474.72 L427.27,474.62 L428.22,474.53 L429.18,474.43 L430.14,474.32 L431.09,474.21 L432.05,474.10 L433.01,473.98 L433.96,473.86 L434.92,473.74" stroke="#0000ff" stroke-width="2.35" stroke-dasharray="2.4 3.6" fill="none"/>
<path d="M249.33,486.20 L250.29,486.13 L251.24,486.06 L252.20,485.99 L253.16,485.93 L254.11,485.87 L255.07,485.81 L256.03,485.76 L256.98,485.71 L257.94,485.67 L258.90,485.63 L259.85,485.59 L260.81,485.57 L261.77,485.55 L262.72,485.54 L263.68,485.54 L264.64,485.54 L265.59,485.56 L266.55,485.59 L267.51,485.63 L268.46,485.69 L269.42,485.76 L270.38,485.85 L271.33,485.96 L272.29,486.09 L273.25,486.24 L274.20,486.42 L275.16,486.62 L276.12,486.85 L277.07,487.11 L278.03,487.41 L278.99,487.74 L279.94,488.12 L280.90,488.53 L281.86,488.99 L282.81,489.49 L283.77,490.05 L284.73,490.66 L285.68,491.33 L286.64,492.06 L287.60,492.85 L288.55,493.71 L289.51,494.64 L290.47,495.65 L291.42,496.73 L292.38,497.89 L293.34,499.13 L294.29,500.46 L295.25,501.88 L296.21,503.38 L297.16,504.98 L298.12,506.68 L299.08,508.47 L300.03,510.36 L300.99,512.35 L301.95,514.43 L302.90,516.61 L303.86,518.90 L304.82,521.27 L305.77,523.75 L306.73,526.31 L307.69,528.97 L308.64,531.71 L309.60,534.53 L310.56,537.43 L311.51,540.41 L312.47,543.45 L313.43,546.55 L314.38,549.70 L315.34,552.89 L316.30,556.12 L317.25,559.38 L318.21,562.65 L319.17,565.93 L320.12,569.21 L321.08,572.47 L322.04,575.70 L322.99,578.89 L323.95,582.04 L324.91,585.12 L325.86,588.13 L326.82,591.05 L327.78,593.88 L328.73,596.59 L329.69,599.18 L330.65,601.64 L331.60,603.95 L332.56,606.11 L333.52,608.10 L334.47,609.92 L335.43,611.55 L336.39,613.00 L337.34,614.24 L338.30,615.29 L339.26,616.12 L340.21,616.74 L341.17,617.15 L342.13,617.33 L343.08,617.30 L344.04,617.04 L345.00,616.57 L345.95,615.88 L346.91,614.98 L347.87,613.87 L348.82,612.55 L349.78,611.04 L350.74,609.33 L351.69,607.44 L352.65,605.37 L353.61,603.14 L354.56,600.75 L355.52,598.21 L356.48,595.54 L357.43,592.74 L358.39,589.83 L359.35,586.82 L360.30,583.72 L361.26,580.54 L362.22,577.30 L363.17,574.00 L364.13,570.66 L365.09,567.30 L366.04,563.91 L367.00,560.52 L367.96,557.14 L368.91,553.77 L369.87,550.42 L370.83,547.10 L371.78,543.83 L372.74,540.61 L373.70,537.44 L374.65,534.34 L375.61,531.31 L376.57,528.36 L377.52,525.48 L378.48,522.70 L379.44,520.00 L380.39,517.39 L381.35,514.88 L382.31,512.46 L383.26,510.14 L384.22,507.92 L385.18,505.79 L386.13,503.77 L387.09,501.84 L388.05,500.01 L389.00,498.27 L389.96,496.62 L390.92,495.07 L391.87,493.60 L392.83,492.22 L393.79,490.92 L394.74,489.70 L395.70,488.56 L396.66,487.49 L397.61,486.50 L398.57,485.57 L399.53,484.70 L400.48,483.89 L401.44,483.14 L402.40,482.45 L403.35,481.81 L404.31,481.21 L405.27,480.66 L406.22,480.15 L407.18,479.68 L408.14,479.24 L409.09,478.84 L410.05,478.47 L411.01,478.13 L411.96,477.81 L412.92,477.52 L413.88,477.24 L414.83,476.99 L415.79,476.76 L416.75,476.54 L417.70,476.34 L418.66,476.16 L419.62,475.98 L420.57,475.82 L421.53,475.66 L422.48,475.51 L423.44,475.38 L424.40,475.24 L425.35,475.12 L426.31,474.99 L427.27,474.86 L428.22,474.74 L429.18,474.61 L430.14,474.48 L431.09,474.35 L432.05,474.22 L433.01,474.08 L433.96,473.95 L434.92,473.82" stroke="#0000ff" stroke-width="2.35" stroke-dasharray="2.4 3.6" fill="none"/>
<path d="M249.33,487.12 L250.29,487.15 L251.24,487.19 L252.20,487.25 L253.16,487.32 L254.11,487.40 L255.07,487.51 L256.03,487.63 L256.98,487.77 L257.94,487.93 L258.90,488.11 L259.85,488.32 L260.81,488.55 L261.77,488.81 L262.72,489.10 L263.68,489.42 L264.64,489.78 L265.59,490.17 L266.55,490.60 L267.51,491.06 L268.46,491.58 L269.42,492.13 L270.38,492.74 L271.33,493.39 L272.29,494.10 L273.25,494.87 L274.20,495.69 L275.16,496.58 L276.12,497.53 L277.07,498.54 L278.03,499.63 L278.99,500.79 L279.94,502.03 L280.90,503.34 L281.86,504.73 L282.81,506.21 L283.77,507.78 L284.73,509.43 L285.68,511.18 L286.64,513.02 L287.60,514.95 L288.55,516.98 L289.51,519.11 L290.47,521.34 L291.42,523.67 L292.38,526.10 L293.34,528.63 L294.29,531.27 L295.25,534.01 L296.21,536.84 L297.16,539.78 L298.12,542.82 L299.08,545.95 L300.03,549.18 L300.99,552.50 L301.95,555.91 L302.90,559.40 L303.86,562.98 L304.82,566.63 L305.77,570.36 L306.73,574.15 L307.69,578.00 L308.64,581.91 L309.60,585.86 L310.56,589.85 L311.51,593.88 L312.47,597.92 L313.43,601.99 L314.38,606.06 L315.34,610.13 L316.30,614.19 L317.25,618.22 L318.21,622.22 L319.17,626.19 L320.12,630.10 L321.08,633.94 L322.04,637.72 L322.99,641.41 L323.95,645.00 L324.91,648.49 L325.86,651.87 L326.82,655.12 L327.78,658.24 L328.73,661.21 L329.69,664.03 L330.65,666.68 L331.60,669.17 L332.56,671.47 L333.52,673.59 L334.47,675.51 L335.43,677.24 L336.39,678.76 L337.34,680.06 L338.30,681.15 L339.26,682.02 L340.21,682.67 L341.17,683.09 L342.13,683.28 L343.08,683.25 L344.04,682.99 L345.00,682.50 L345.95,681.79 L346.91,680.86 L347.87,679.70 L348.82,678.33 L349.78,676.74 L350.74,674.95 L351.69,672.96 L352.65,670.77 L353.61,668.40 L354.56,665.84 L355.52,663.11 L356.48,660.22 L357.43,657.17 L358.39,653.97 L359.35,650.64 L360.30,647.18 L361.26,643.60 L362.22,639.92 L363.17,636.14 L364.13,632.27 L365.09,628.33 L366.04,624.32 L367.00,620.26 L367.96,616.16 L368.91,612.02 L369.87,607.85 L370.83,603.68 L371.78,599.49 L372.74,595.32 L373.70,591.15 L374.65,587.01 L375.61,582.90 L376.57,578.82 L377.52,574.79 L378.48,570.82 L379.44,566.90 L380.39,563.04 L381.35,559.26 L382.31,555.55 L383.26,551.93 L384.22,548.38 L385.18,544.93 L386.13,541.56 L387.09,538.29 L388.05,535.12 L389.00,532.04 L389.96,529.06 L390.92,526.18 L391.87,523.41 L392.83,520.73 L393.79,518.16 L394.74,515.69 L395.70,513.32 L396.66,511.04 L397.61,508.87 L398.57,506.79 L399.53,504.81 L400.48,502.91 L401.44,501.11 L402.40,499.40 L403.35,497.78 L404.31,496.24 L405.27,494.77 L406.22,493.39 L407.18,492.09 L408.14,490.85 L409.09,489.69 L410.05,488.59 L411.01,487.56 L411.96,486.58 L412.92,485.67 L413.88,484.81 L414.83,484.01 L415.79,483.25 L416.75,482.54 L417.70,481.88 L418.66,481.26 L419.62,480.68 L420.57,480.13 L421.53,479.63 L422.48,479.15 L423.44,478.71 L424.40,478.29 L425.35,477.90 L426.31,477.53 L427.27,477.18 L428.22,476.84 L429.18,476.52 L430.14,476.21 L431.09,475.92 L432.05,475.64 L433.01,475.37 L433.96,475.11 L434.92,474.86" stroke="#0000ff" stroke-width="2.35" stroke-dasharray="2.4 3.6" fill="none"/>
<path d="M86.70,507.07 L87.66,506.89 L88.61,506.71 L89.57,506.53 L90.53,506.35 L91.48,506.17 L92.44,505.99 L93.40,505.81 L94.35,505.63 L95.31,505.46 L96.27,505.28 L97.22,505.10 L98.18,504.93 L99.14,504.76 L100.09,504.58 L101.05,504.41 L102.01,504.24 L102.96,504.07 L103.92,503.90 L104.88,503.73 L105.83,503.57 L106.79,503.40 L107.75,503.23 L108.70,503.07 L109.66,502.90 L110.62,502.74 L111.57,502.58 L112.53,502.42 L113.49,502.26 L114.44,502.10 L115.40,501.94 L116.36,501.79 L117.31,501.63 L118.27,501.48 L119.23,501.32 L120.18,501.17 L121.14,501.02 L122.10,500.87 L123.05,500.72 L124.01,500.57 L124.97,500.43 L125.92,500.28 L126.88,500.14 L127.84,500.00 L128.79,499.85 L129.75,499.71 L130.71,499.58 L131.66,499.44 L132.62,499.30 L133.58,499.16 L134.53,499.03 L135.49,498.89 L136.45,498.76 L137.40,498.63 L138.36,498.49 L139.32,498.36 L140.27,498.23 L141.23,498.10 L142.19,497.97 L143.14,497.84 L144.10,497.71 L145.06,497.59 L146.01,497.46 L146.97,497.34 L147.93,497.21 L148.88,497.09 L149.84,496.96 L150.80,496.84 L151.75,496.72 L152.71,496.60 L153.67,496.47 L154.62,496.35 L155.58,496.23 L156.54,496.11 L157.49,496.00 L158.45,495.88 L159.41,495.76 L160.36,495.64 L161.32,495.53 L162.28,495.41 L163.23,495.30 L164.19,495.18 L165.15,495.07 L166.10,494.95 L167.06,494.84 L168.02,494.73 L168.97,494.61 L169.93,494.50 L170.89,494.39 L171.84,494.28 L172.80,494.17 L173.76,494.06 L174.71,493.95 L175.67,493.84 L176.63,493.73 L177.58,493.62 L178.54,493.51 L179.50,493.40 L180.45,493.29 L181.41,493.19 L182.37,493.08 L183.32,492.97 L184.28,492.87 L185.24,492.76 L186.19,492.66 L187.15,492.56 L188.11,492.46 L189.06,492.36 L190.02,492.27 L190.98,492.17 L191.93,492.07 L192.89,491.98 L193.85,491.88 L194.80,491.78 L195.76,491.69 L196.72,491.59 L197.67,491.50 L198.63,491.40 L199.58,491.30 L200.54,491.21 L201.50,491.11 L202.45,491.01 L203.41,490.91 L204.37,490.81 L205.32,490.71 L206.28,490.60 L207.24,490.50 L208.19,490.39 L209.15,490.28 L210.11,490.17 L211.06,490.06 L212.02,489.95 L212.98,489.84 L213.93,489.73 L214.89,489.62 L215.85,489.51 L216.80,489.40 L217.76,489.29 L218.72,489.18 L219.67,489.07 L220.63,488.96 L221.59,488.85 L222.54,488.74 L223.50,488.63 L224.46,488.53 L225.41,488.42 L226.37,488.32 L227.33,488.22 L228.28,488.12 L229.24,488.02 L230.20,487.92 L231.15,487.83 L232.11,487.73 L233.07,487.64 L234.02,487.55 L234.98,487.46 L235.94,487.36 L236.89,487.27 L237.85,487.18 L238.81,487.10 L239.76,487.01 L240.72,486.92 L241.68,486.84 L242.63,486.75 L243.59,486.67 L244.55,486.58 L245.50,486.50 L246.46,486.42 L247.42,486.35 L248.37,486.27 L249.33,486.19 L250.29,486.12 L251.24,486.05 L252.20,485.98 L253.16,485.92 L254.11,485.85 L255.07,485.80 L256.03,485.74 L256.98,485.69 L257.94,485.64 L258.90,485.60 L259.85,485.56 L260.81,485.53 L261.77,485.51 L262.72,485.49 L263.68,485.49 L264.64,485.49 L265.59,485.50 L266.55,485.52 L267.51,485.56 L268.46,485.60 L269.42,485.67 L270.38,485.75 L271.33,485.84 L272.29,485.96 L273.25,486.10 L274.20,486.26 L275.16,486.45 L276.12,486.66 L277.07,486.91 L278.03,487.19 L278.99,487.50 L279.94,487.85 L280.90,488.24 L281.86,488.67 L282.81,489.15 L283.77,489.68 L284.73,490.26 L285.68,490.90 L286.64,491.59 L287.60,492.35 L288.55,493.17 L289.51,494.06 L290.47,495.03 L291.42,496.06 L292.38,497.18 L293.34,498.38 L294.29,499.66 L295.25,501.03 L296.21,502.49 L297.16,504.03 L298.12,505.68 L299.08,507.41 L300.03,509.25 L300.99,511.17 L301.95,513.20 L302.90,515.33 L303.86,517.55 L304.82,519.87 L305.77,522.28 L306.73,524.78 L307.69,527.38 L308.64,530.06 L309.60,532.82 L310.56,535.66 L311.51,538.58 L312.47,541.56 L313.43,544.60 L314.38,547.69 L315.34,550.83 L316.30,554.00 L317.25,557.20 L318.21,560.42 L319.17,563.65 L320.12,566.88 L321.08,570.09 L322.04,573.27 L322.99,576.43 L323.95,579.53 L324.91,582.57 L325.86,585.54 L326.82,588.42 L327.78,591.21 L328.73,593.89 L329.69,596.45 L330.65,598.88 L331.60,601.17 L332.56,603.30 L333.52,605.27 L334.47,607.07 L335.43,608.69 L336.39,610.12 L337.34,611.36 L338.30,612.39 L339.26,613.21 L340.21,613.83 L341.17,614.23 L342.13,614.41 L343.08,614.38 L344.04,614.13 L345.00,613.66 L345.95,612.98 L346.91,612.08 L347.87,610.98 L348.82,609.68 L349.78,608.18 L350.74,606.49 L351.69,604.61 L352.65,602.57 L353.61,600.36 L354.56,597.99 L355.52,595.48 L356.48,592.84 L357.43,590.07 L358.39,587.20 L359.35,584.22 L360.30,581.16 L361.26,578.02 L362.22,574.82 L363.17,571.57 L364.13,568.28 L365.09,564.96 L366.04,561.62 L367.00,558.28 L367.96,554.95 L368.91,551.63 L369.87,548.34 L370.83,545.08 L371.78,541.87 L372.74,538.70 L373.70,535.60 L374.65,532.56 L375.61,529.59 L376.57,526.69 L377.52,523.88 L378.48,521.15 L379.44,518.52 L380.39,515.97 L381.35,513.52 L382.31,511.16 L383.26,508.90 L384.22,506.73 L385.18,504.67 L386.13,502.70 L387.09,500.82 L388.05,499.04 L389.00,497.36 L389.96,495.76 L390.92,494.26 L391.87,492.84 L392.83,491.50 L393.79,490.25 L394.74,489.07 L395.70,487.97 L396.66,486.94 L397.61,485.98 L398.57,485.09 L399.53,484.26 L400.48,483.48 L401.44,482.77 L402.40,482.10 L403.35,481.48 L404.31,480.91 L405.27,480.38 L406.22,479.90 L407.18,479.45 L408.14,479.03 L409.09,478.65 L410.05,478.29 L411.01,477.97 L411.96,477.66 L412.92,477.38 L413.88,477.13 L414.83,476.89 L415.79,476.66 L416.75,476.46 L417.70,476.26 L418.66,476.09 L419.62,475.92 L420.57,475.76 L421.53,475.61 L422.48,475.47 L423.44,475.34 L424.40,475.21 L425.35,475.09 L426.31,474.96 L427.27,474.84 L428.22,474.72 L429.18,474.59 L430.14,474.46 L431.09,474.33 L432.05,474.20 L433.01,474.07 L433.96,473.94 L434.92,473.81 L435.88,473.68 L436.83,473.55 L437.79,473.42 L438.75,473.29 L439.70,473.17 L440.66,473.04 L441.62,472.92 L442.57,472.81 L443.53,472.69 L444.49,472.58 L445.44,472.48 L446.40,472.38 L447.36,472.29 L448.31,472.21 L449.27,472.13 L450.23,472.06 L451.18,472.00 L452.14,471.95 L453.10,471.91 L454.05,471.88 L455.01,471.87 L455.97,471.86 L456.92,471.87 L457.88,471.89 L458.84,471.93 L459.79,471.97 L460.75,472.01 L461.71,472.07 L462.66,472.13 L463.62,472.20 L464.58,472.27 L465.53,472.36 L466.49,472.45 L467.45,472.55 L468.40,472.66 L469.36,472.78 L470.32,472.91 L471.27,473.04 L472.23,473.19 L473.19,473.34 L474.14,473.51 L475.10,473.68 L476.06,473.86 L477.01,474.05 L477.97,474.25 L478.93,474.45 L479.88,474.67 L480.84,474.89 L481.80,475.12 L482.75,475.36 L483.71,475.61 L484.67,475.86 L485.62,476.12 L486.58,476.38 L487.54,476.65 L488.49,476.92 L489.45,477.20 L490.41,477.48 L491.36,477.76 L492.32,478.04 L493.28,478.32 L494.23,478.60 L495.19,478.88 L496.15,479.16 L497.10,479.43 L498.06,479.70 L499.02,479.97 L499.97,480.23 L500.93,480.48 L501.89,480.72 L502.84,480.95 L503.80,481.17 L504.76,481.38 L505.71,481.58 L506.67,481.77 L507.63,481.94 L508.58,482.10 L509.54,482.24 L510.50,482.36 L511.45,482.47 L512.41,482.56 L513.37,482.64 L514.32,482.69 L515.28,482.72 L516.24,482.74 L517.19,482.74 L518.15,482.72 L519.11,482.67 L520.06,482.61 L521.02,482.53 L521.98,482.42 L522.93,482.30 L523.89,482.16 L524.85,482.00 L525.80,481.82 L526.76,481.62 L527.72,481.41 L528.67,481.18 L529.63,480.94 L530.59,480.68 L531.54,480.41 L532.50,480.13 L533.46,479.84 L534.41,479.54 L535.37,479.23 L536.33,478.91 L537.28,478.58 L538.24,478.25 L539.20,477.91 L540.15,477.57 L541.11,477.23 L542.07,476.89 L543.02,476.54 L543.98,476.20 L544.94,475.86 L545.89,475.52 L546.85,475.18 L547.81,474.85 L548.76,474.52 L549.72,474.20 L550.68,473.88 L551.63,473.57 L552.59,473.27 L553.55,472.98 L554.50,472.70 L555.46,472.42 L556.42,472.16 L557.37,471.90 L558.33,471.66 L559.29,471.42 L560.24,471.20 L561.20,470.99 L562.16,470.78 L563.11,470.58 L564.07,470.40 L565.03,470.22 L565.98,470.05 L566.94,469.89 L567.90,469.73 L568.85,469.59 L569.81,469.45 L570.77,469.32 L571.72,469.20 L572.68,469.09 L573.64,468.98 L574.59,468.88 L575.55,468.78 L576.51,468.70 L577.46,468.61 L578.42,468.54 L579.38,468.46 L580.33,468.40 L581.29,468.33 L582.25,468.28 L583.20,468.22 L584.16,468.17 L585.12,468.12 L586.07,468.08 L587.03,468.04 L587.99,468.00 L588.94,467.96 L589.90,467.93 L590.86,467.89 L591.81,467.86 L592.77,467.83 L593.73,467.81 L594.68,467.78 L595.64,467.75 L596.60,467.73 L597.55,467.70 L598.51,467.68 L599.47,467.66 L600.42,467.63 L601.38,467.61 L602.34,467.58 L603.29,467.55 L604.25,467.51 L605.21,467.47 L606.16,467.43 L607.12,467.39 L608.08,467.34 L609.03,467.29 L609.99,467.24 L610.95,467.18 L611.90,467.12 L612.86,467.06 L613.82,467.00 L614.77,466.93 L615.73,466.86 L616.69,466.79 L617.64,466.72 L618.60,466.65 L619.56,466.57 L620.51,466.50 L621.47,466.42 L622.43,466.34 L623.38,466.25 L624.34,466.17 L625.30,466.09 L626.25,466.00 L627.21,465.91 L628.17,465.83 L629.12,465.74 L630.08,465.65 L631.04,465.56 L631.99,465.47 L632.95,465.38 L633.91,465.29 L634.86,465.20 L635.82,465.11 L636.78,465.02 L637.73,464.93 L638.69,464.84 L639.65,464.75 L640.60,464.66 L641.56,464.57 L642.52,464.48 L643.47,464.40 L644.43,464.31 L645.38,464.23 L646.34,464.14 L647.30,464.06 L648.25,463.98 L649.21,463.90 L650.17,463.83 L651.12,463.75 L652.08,463.68 L653.04,463.61 L653.99,463.54 L654.95,463.47 L655.91,463.41 L656.86,463.35 L657.82,463.29 L658.78,463.23 L659.73,463.18 L660.69,463.13 L661.65,463.08 L662.60,463.03 L663.56,462.98 L664.52,462.93 L665.47,462.88 L666.43,462.83 L667.39,462.78 L668.34,462.73 L669.30,462.68 L670.26,462.63 L671.21,462.58 L672.17,462.53 L673.13,462.48 L674.08,462.43 L675.04,462.38 L676.00,462.33 L676.95,462.29 L677.91,462.24 L678.87,462.19 L679.82,462.14 L680.78,462.09 L681.74,462.05 L682.69,462.00 L683.65,461.95 L684.61,461.90 L685.56,461.86 L686.52,461.81 L687.48,461.77 L688.43,461.72 L689.39,461.67 L690.35,461.63 L691.30,461.58 L692.26,461.54 L693.22,461.49 L694.17,461.45 L695.13,461.40 L696.09,461.36 L697.04,461.32 L698.00,461.27 L698.96,461.23 L699.91,461.19 L700.87,461.14 L701.83,461.10 L702.78,461.06 L703.74,461.02 L704.70,460.98 L705.65,460.93 L706.61,460.89 L707.57,460.85 L708.52,460.81 L709.48,460.77 L710.44,460.73 L711.39,460.69 L712.35,460.66 L713.31,460.62 L714.26,460.58 L715.22,460.54 L716.18,460.50 L717.13,460.47 L718.09,460.43 L719.05,460.39 L720.00,460.36 L720.96,460.32 L721.92,460.29 L722.87,460.25 L723.83,460.22 L724.79,460.18 L725.74,460.15 L726.70,460.12 L727.66,460.08 L728.61,460.05 L729.57,460.02 L730.53,459.99 L731.48,459.96 L732.44,459.93 L733.40,459.90 L734.35,459.87 L735.31,459.84 L736.27,459.81 L737.22,459.78 L738.18,459.75 L739.14,459.72 L740.09,459.70 L741.05,459.67 L742.01,459.64 L742.96,459.62 L743.92,459.59 L744.88,459.57 L745.83,459.54 L746.79,459.52 L747.75,459.50 L748.70,459.47 L749.66,459.45 L750.62,459.43 L751.57,459.41 L752.53,459.39 L753.49,459.37 L754.44,459.35 L755.40,459.33" stroke="#ff0000" stroke-width="2.75" fill="none" stroke-linejoin="round"/>
</g>
<rect x="86.7" y="419.6" width="668.6999999999999" height="292.29999999999995" fill="none" stroke="#000" stroke-width="1.4"/>
<path d="M182.23,711.9v-6.1M182.23,419.6v6.1M277.76,711.9v-12.0M277.76,419.6v12.0M373.29,711.9v-6.1M373.29,419.6v6.1M468.81,711.9v-12.0M468.81,419.6v12.0M564.34,711.9v-6.1M564.34,419.6v6.1M659.87,711.9v-12.0M659.87,419.6v12.0M86.7,694.62h5.6M755.4,694.62h-5.6M86.7,677.45h11.3M755.4,677.45h-11.3M86.7,660.27h5.6M755.4,660.27h-5.6M86.7,643.10h11.3M755.4,643.10h-11.3M86.7,625.92h5.6M755.4,625.92h-5.6M86.7,608.75h11.3M755.4,608.75h-11.3M86.7,591.58h5.6M755.4,591.58h-5.6M86.7,574.40h11.3M755.4,574.40h-11.3M86.7,557.23h5.6M755.4,557.23h-5.6M86.7,540.05h11.3M755.4,540.05h-11.3M86.7,522.88h5.6M755.4,522.88h-5.6M86.7,505.70h11.3M755.4,505.70h-11.3M86.7,488.52h5.6M755.4,488.52h-5.6M86.7,471.35h11.3M755.4,471.35h-11.3M86.7,454.18h5.6M755.4,454.18h-5.6M86.7,437.00h11.3M755.4,437.00h-11.3" stroke="#000" stroke-width="1.4" fill="none"/>
<text x="83.50" y="739.80" text-anchor="middle">4102.4</text>
<text x="274.56" y="739.80" text-anchor="middle">4102.8</text>
<text x="465.61" y="739.80" text-anchor="middle">4103.2</text>
<text x="656.67" y="739.80" text-anchor="middle">4103.6</text>
<text x="71.6" y="720.70" text-anchor="end">0.2</text>
<text x="71.6" y="686.35" text-anchor="end">0.3</text>
<text x="71.6" y="652.00" text-anchor="end">0.4</text>
<text x="71.6" y="617.65" text-anchor="end">0.5</text>
<text x="71.6" y="583.30" text-anchor="end">0.6</text>
<text x="71.6" y="548.95" text-anchor="end">0.7</text>
<text x="71.6" y="514.60" text-anchor="end">0.8</text>
<text x="71.6" y="480.25" text-anchor="end">0.9</text>
<text x="71.6" y="445.90" text-anchor="end">1.0</text>
<text x="421.85" y="767.90" text-anchor="middle">Lambda</text>
<g class="ser" transform="translate(33.5,632.00) rotate(-90)" style="font-size:17.8px;fill:#262626"><text class="ser" x="-0.2" y="0" textLength="11.9" lengthAdjust="spacingAndGlyphs">A</text><text class="ser" x="12.0" y="0" textLength="9.1" lengthAdjust="spacingAndGlyphs">r</text><text class="ser" x="21.4" y="0" textLength="9.2" lengthAdjust="spacingAndGlyphs">b</text><text class="ser" x="30.9" y="0" textLength="5.3" lengthAdjust="spacingAndGlyphs">i</text><text class="ser" x="36.5" y="0" textLength="5.4" lengthAdjust="spacingAndGlyphs">t</text><text class="ser" x="42.2" y="0" textLength="9.1" lengthAdjust="spacingAndGlyphs">r</text><text class="ser" x="51.6" y="0" textLength="8.1" lengthAdjust="spacingAndGlyphs">a</text><text class="ser" x="60.0" y="0" textLength="9.1" lengthAdjust="spacingAndGlyphs">r</text><text class="ser" x="69.4" y="0" textLength="9.1" lengthAdjust="spacingAndGlyphs">y</text><text class="ser" x="93.0" y="0" textLength="10.0" lengthAdjust="spacingAndGlyphs">F</text><text class="ser" x="103.3" y="0" textLength="6.3" lengthAdjust="spacingAndGlyphs">l</text><text class="ser" x="109.9" y="0" textLength="11.0" lengthAdjust="spacingAndGlyphs">u</text><text class="ser" x="121.2" y="0" textLength="9.1" lengthAdjust="spacingAndGlyphs">x</text></g>
<text x="397.3" y="574.90" style="fill:#000;stroke:#000">HE 2229-4153</text>
<text x="397.3" y="609.25" style="fill:#000;stroke:#000">Si I 4102.936 A</text>
<text x="397.3" y="643.60" style="fill:#ff0000;stroke:#ff0000">A(Si) = 5.48</text>
<text x="397.3" y="677.95" style="fill:#0000ff;stroke:#0000ff">A(Si) = 6.50,5.50,4.50,none</text>
</svg></body></html>
